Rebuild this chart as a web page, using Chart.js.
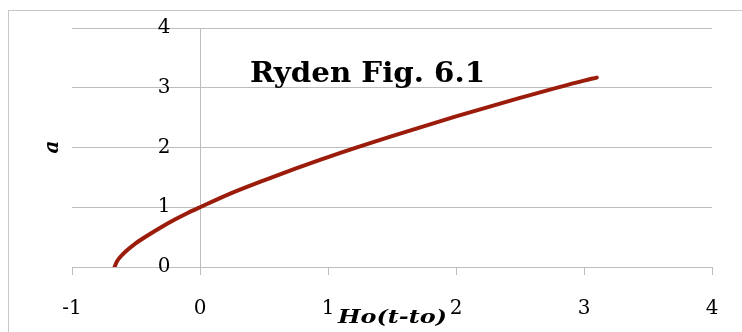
<!DOCTYPE html>
<html>
<head>
<meta charset="utf-8">
<script src="https://cdn.jsdelivr.net/npm/chart.js@4.4.1/dist/chart.umd.min.js"></script>
<style>
  html, body { margin: 0; padding: 0; background: #fff; }
  #wrap { width: 742px; height: 332px; position: relative; }
</style>
</head>
<body>
<div id="wrap"><canvas id="chart"></canvas></div>
<script>
// Ryden Fig. 6.1 values
const xValues = [-0.667, -0.65, -0.6, -0.5, -0.4, -0.3, -0.2, -0.1, 0, 0.25, 0.5, 0.75, 1, 1.5, 2, 2.5, 3, 3.1];
const aValues = [0, 0.09, 0.22, 0.40, 0.54, 0.67, 0.79, 0.90, 1, 1.24, 1.45, 1.65, 1.84, 2.19, 2.52, 2.83, 3.12, 3.17];
const xTicks = [-1, 0, 1, 2, 3, 4];
const yTicks = [0, 1, 2, 3, 4];

const chartTitle = 'Ryden Fig. 6.1';
const xTitle = 'Ho(t-to)';
const yTitle = 'a';

const GRID = '#bdbdbd';
const LINE = '#9c1c0c';
const SERIF = '"DejaVu Serif", "Liberation Serif", serif';

const points = xValues.map((x, i) => ({ x: x, y: aValues[i] }));

// draw text squeezed/stretched to a given width
function fitText(ctx, text, x, y, width) {
  const w = ctx.measureText(text).width;
  ctx.save();
  ctx.translate(x, y);
  ctx.scale(width / w, 1);
  ctx.fillText(text, 0, 0);
  ctx.restore();
}

// frame + overlaid text (Excel style title inside the plot)
const decor = {
  id: 'decor',
  beforeDraw(chart) {
    const ctx = chart.ctx;
    ctx.save();
    ctx.strokeStyle = '#c8c8c8';
    ctx.lineWidth = 1;
    ctx.strokeRect(8.5, 10.5, 800, 400);
    ctx.restore();
  },
  afterDraw(chart) {
    const ctx = chart.ctx;
    ctx.save();
    ctx.fillStyle = '#000';
    ctx.textBaseline = 'alphabetic';
    ctx.textAlign = 'left';
    ctx.font = 'bold 27px ' + SERIF;
    fitText(ctx, chartTitle, 250, 82, 235);
    ctx.font = 'italic bold 18px ' + SERIF;
    fitText(ctx, xTitle, 338, 323, 109);
    ctx.textAlign = 'center';
    ctx.font = 'italic bold 20px ' + SERIF;
    ctx.translate(58, 147);
    ctx.rotate(-Math.PI / 2);
    ctx.fillText(yTitle, 0, 0);
    ctx.restore();
  }
};

new Chart(document.getElementById('chart'), {
  type: 'scatter',
  data: {
    datasets: [{
      data: points,
      showLine: true,
      borderColor: LINE,
      backgroundColor: LINE,
      borderWidth: 4,
      pointRadius: 0,
      cubicInterpolationMode: 'monotone',
      borderCapStyle: 'round'
    }]
  },
  options: {
    responsive: true,
    maintainAspectRatio: false,
    animation: false,
    layout: { padding: { left: 72, right: 30, top: 28, bottom: 0 } },
    plugins: {
      legend: { display: false },
      title: { display: false },
      tooltip: { enabled: false }
    },
    scales: {
      x: {
        type: 'linear',
        position: 'bottom',
        min: -1,
        max: 4,
        afterBuildTicks: (s) => { s.ticks = xTicks.map(v => ({ value: v })); },
        afterFit: (s) => { s.height = 65; },
        // only the x = 0 line is drawn across the plot (the vertical axis)
        grid: {
          drawOnChartArea: true,
          drawTicks: true,
          tickLength: 8,
          tickColor: GRID,
          color: (c) => (c.tick && c.tick.value === 0 ? GRID : 'rgba(0,0,0,0)')
        },
        border: { display: true, color: GRID, width: 1 },
        ticks: {
          color: '#000',
          padding: 22,
          font: { family: SERIF, size: 20 },
          maxRotation: 0
        }
      },
      y: {
        type: 'linear',
        // labels sit just left of the x = 0 line
        position: { x: -0.23 },
        min: 0,
        max: 4,
        afterBuildTicks: (s) => { s.ticks = yTicks.map(v => ({ value: v })); },
        afterFit: (s) => { s.width = 0; },
        grid: { drawTicks: false, color: GRID },
        border: { display: false },
        ticks: {
          color: '#000',
          padding: 0,
          font: { family: SERIF, size: 20 }
        }
      }
    }
  },
  plugins: [decor]
});
</script>
</body>
</html>
